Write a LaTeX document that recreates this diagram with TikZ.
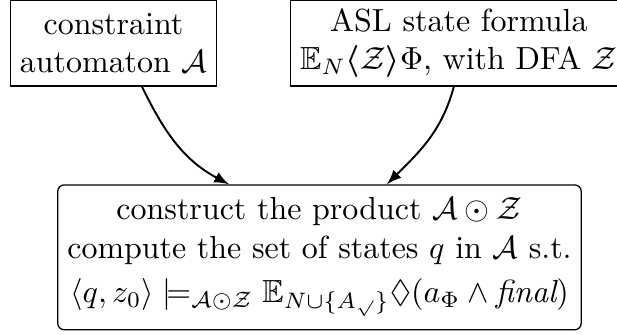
\documentclass[tikz,border=0pt]{standalone}
\usepackage{amsmath, amssymb, bm}
\usetikzlibrary{arrows}
\begin{document}
\begin{tikzpicture}[box/.style={draw, align=center, inner xsep=3pt, inner ysep=2pt, minimum height=26.9pt},
				rbox/.style={draw, align=center, inner sep=3pt, rounded corners=2pt, minimum height=45.3pt},
				>=latex,   %Pfeilspitzen
				x=1cm, y=1cm]
				%Bildbereich festlegen
				\useasboundingbox (0,0) rectangle (6.783,-3.673);
				% Kaesten
				\node[box, minimum width=64.1pt] (aut) at (1.248,-0.473) {constraint\\ automaton $\mathcal{A}$};
				\node[box] (asl) at (5.045,-0.473) {ASL state formula\\ $\mathbb{E}_N\bm{\langle}\mathcal{Z}\bm{\rangle}\Phi$, with DFA $\mathcal{Z}$};
				\node[rbox] (prod) at (3.512,-2.829) {construct the product $\mathcal{A}\odot\mathcal{Z}$\\
					compute the set of states $q$ in $\mathcal{A}$ s.t.\\[2pt]
					$\langle q,z_0\rangle\models_{\mathcal{A}\odot\mathcal{Z}}\mathbb{E}_{N\cup\{A_{\surd}\}}\Diamond(a_\Phi\wedge\textit{final})$};
				% Pfeile
				\draw[->, semithick] ([xshift=-1.6pt]asl.south) to[out=-105, in=45] ([xshift=21.1pt]prod.north);
				\draw[->, semithick] ([xshift=8.9pt]aut.south) to[out=-64, in=152] ([xshift=-28.3pt]prod.north);
\end{tikzpicture}
\end{document}
